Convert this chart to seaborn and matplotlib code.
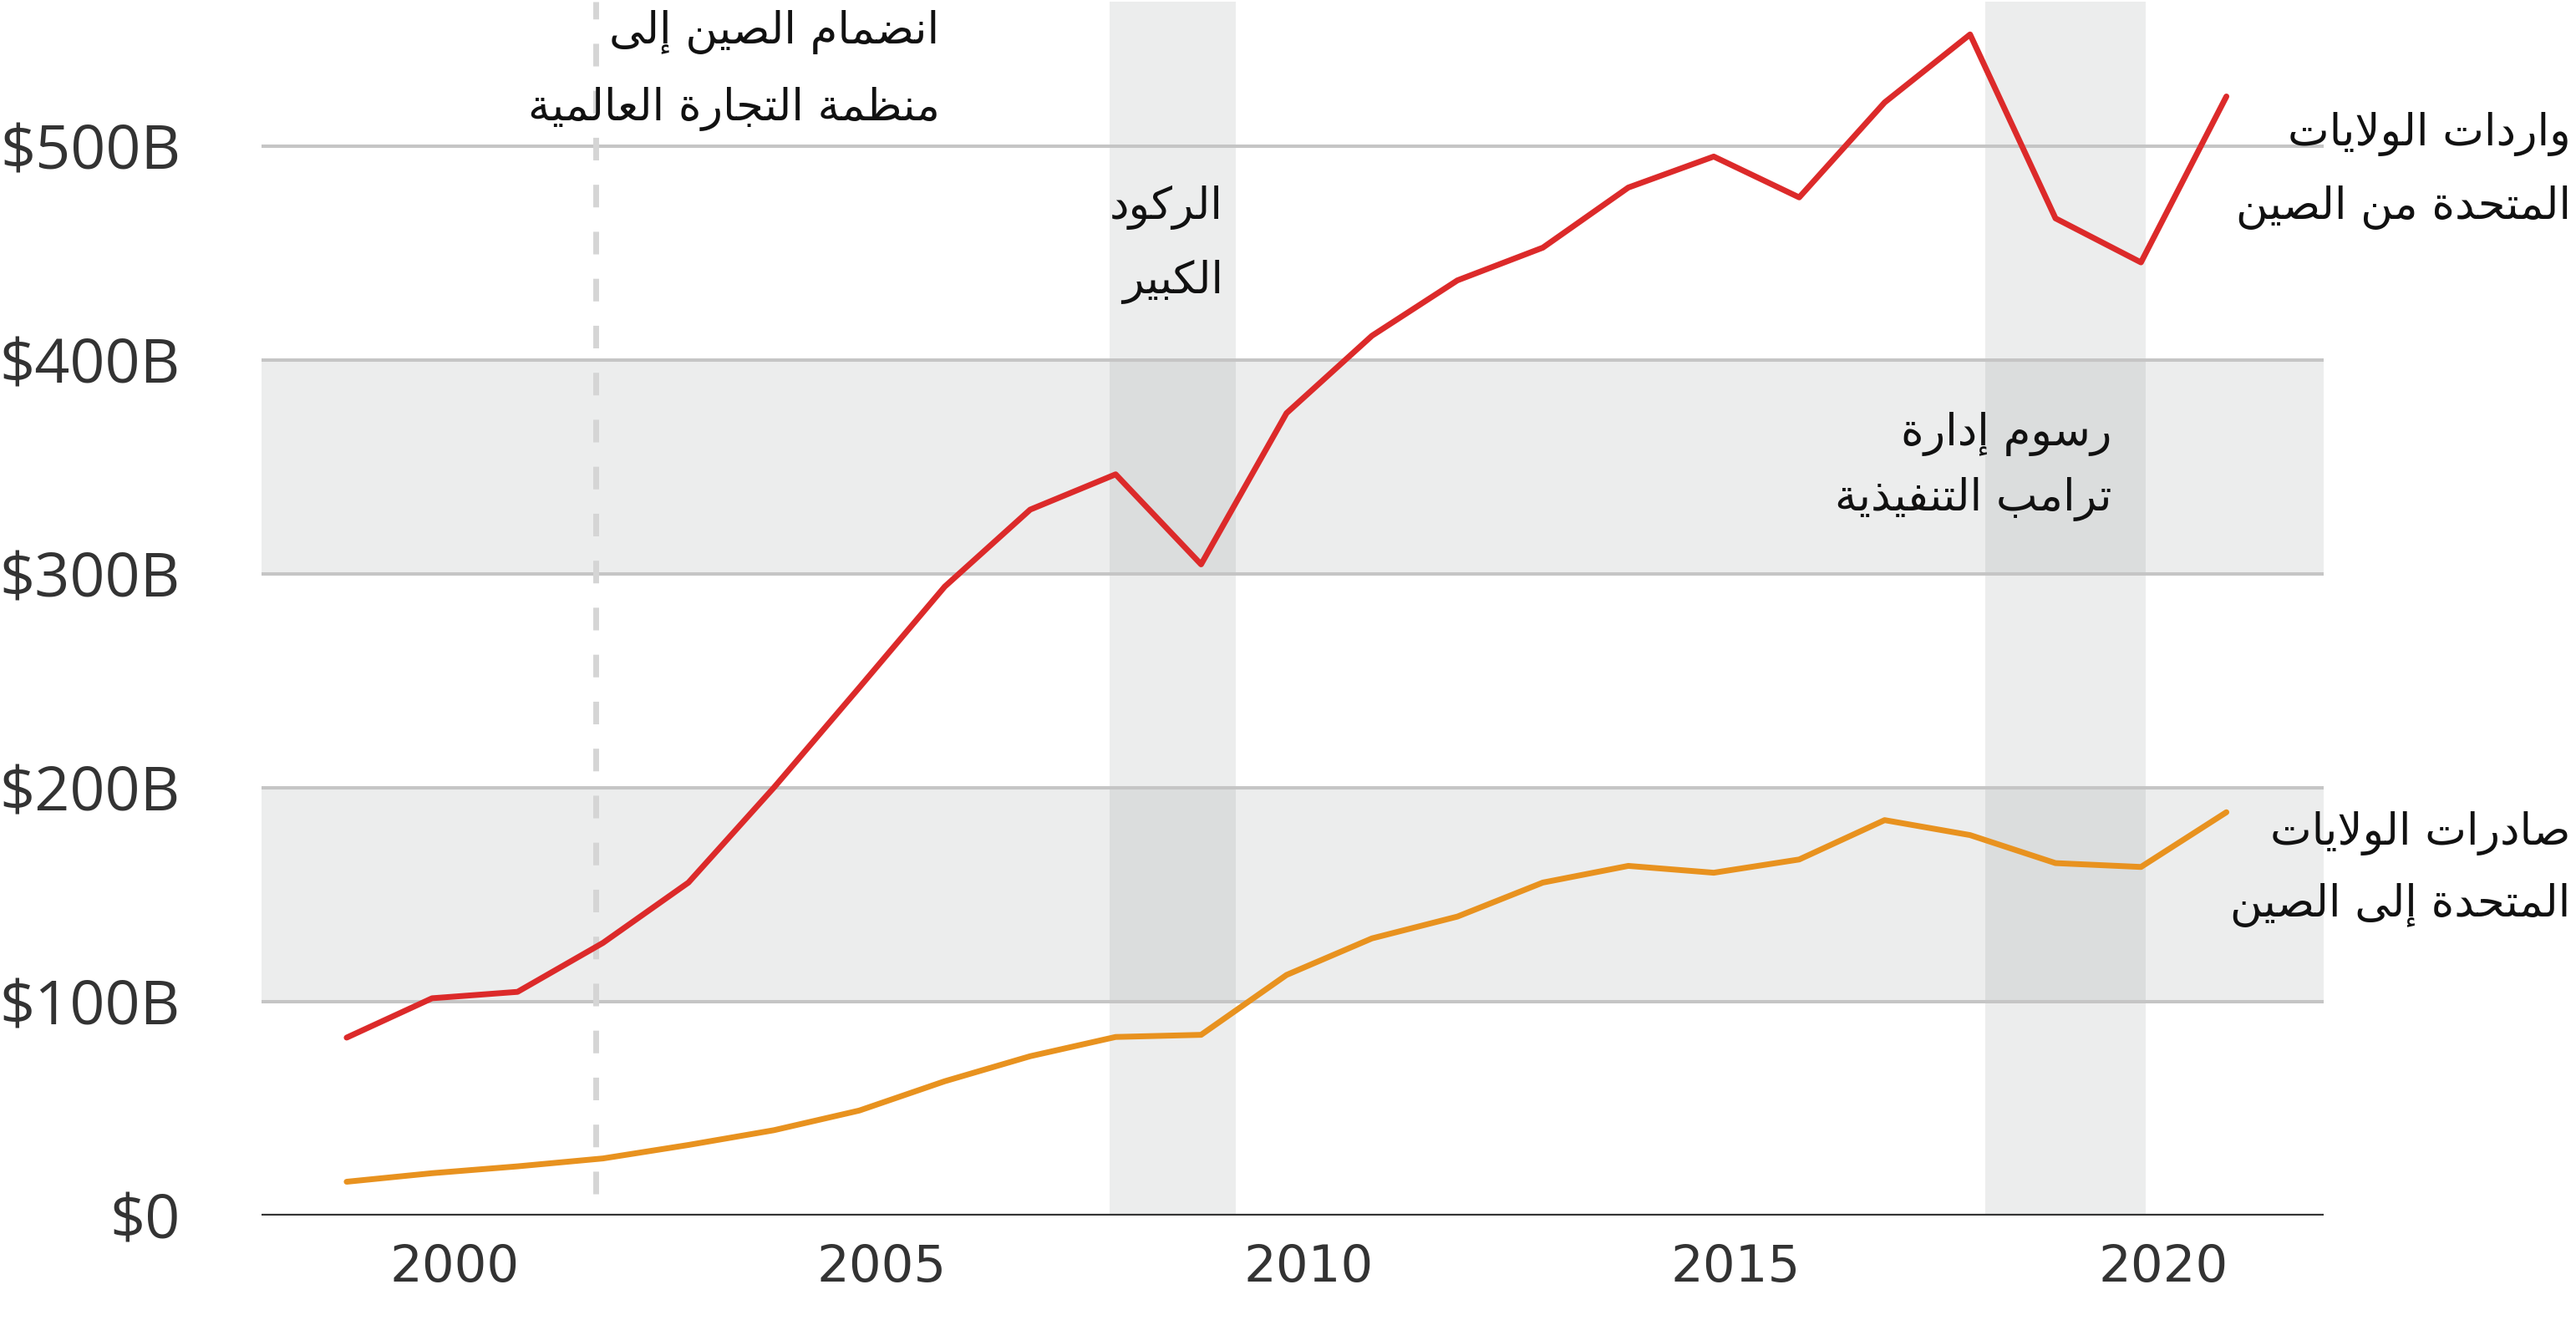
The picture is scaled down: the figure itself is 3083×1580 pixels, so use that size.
import numpy as np
import pandas as pd
import matplotlib
matplotlib.use('Agg')
import matplotlib.pyplot as plt
import seaborn as sns

# ----------------------------------------------------------------------------
# Data (US-China goods trade, billions of dollars)

years = list(range(1999, 2022))
imports_from_china = [83.1, 101.5, 104.5, 127.4, 155.6, 200.0, 246.8, 294.0,
                      330.0, 346.5, 304.4, 375.1, 411.3, 437.2, 452.5, 480.6,
                      495.1, 476.0, 520.4, 552.2, 466.2, 445.6, 523.2]
exports_to_china = [15.7, 19.7, 22.9, 26.6, 32.9, 39.8, 49.0, 62.7, 74.4,
                    83.4, 84.4, 112.4, 129.5, 139.7, 155.6, 163.4, 160.2,
                    166.4, 184.8, 177.8, 164.7, 162.9, 188.5]

series_names = ['imports', 'exports']
series_colors = ['#dc2a2a', '#e8921f']

y_ticks = [0, 100, 200, 300, 400, 500]
y_tick_labels = ['$0', '$100B', '$200B', '$300B', '$400B', '$500B']
x_tick_years = [2000, 2005, 2010, 2015, 2020]
x_tick_labels = ['2000', '2005', '2010', '2015', '2020']

shaded_value_bands = [(100, 200), (300, 400)]
recession = (2007.93, 2009.41)
tariffs = (2018.18, 2020.06)
wto_entry = 2001.92

# label lines (right edge x, baseline y values given in data coordinates)
wto_lines = ['انضمام الصين إلى', 'منظمة التجارة العالمية']
recession_lines = ['الركود', 'الكبير']
tariff_lines = ['رسوم إدارة', 'ترامب التنفيذية']
imports_lines = ['واردات الولايات', 'المتحدة من الصين']
exports_lines = ['صادرات الولايات', 'المتحدة إلى الصين']

# ----------------------------------------------------------------------------
# Minimal Arabic shaping (matplotlib does no contextual shaping / bidi)

_four = {'ئ': 0xFE89, 'ب': 0xFE8F, 'ت': 0xFE95, 'ث': 0xFE99, 'ج': 0xFE9D,
         'ح': 0xFEA1, 'خ': 0xFEA5, 'س': 0xFEB1, 'ش': 0xFEB5, 'ص': 0xFEB9,
         'ض': 0xFEBD, 'ط': 0xFEC1, 'ظ': 0xFEC5, 'ع': 0xFEC9, 'غ': 0xFECD,
         'ف': 0xFED1, 'ق': 0xFED5, 'ك': 0xFED9, 'ل': 0xFEDD, 'م': 0xFEE1,
         'ن': 0xFEE5, 'ه': 0xFEE9, 'ي': 0xFEF1}
_two = {'آ': 0xFE81, 'أ': 0xFE83, 'ؤ': 0xFE85, 'إ': 0xFE87, 'ا': 0xFE8D,
        'ة': 0xFE93, 'د': 0xFEA9, 'ذ': 0xFEAB, 'ر': 0xFEAD, 'ز': 0xFEAF,
        'و': 0xFEED, 'ى': 0xFEEF}
FORMS = {c: (b, b + 1, b + 2, b + 3) for c, b in _four.items()}
FORMS.update({c: (b, b + 1) for c, b in _two.items()})
LAM_ALEF = {'آ': 0xFEF5, 'أ': 0xFEF7, 'إ': 0xFEF9, 'ا': 0xFEFB}


def shape_arabic(text):
    out = []
    i = 0
    prev_joins = False
    while i < len(text):
        c = text[i]
        if c not in FORMS:
            out.append(c)
            prev_joins = False
            i += 1
            continue
        nxt = text[i + 1] if i + 1 < len(text) else ''
        if c == 'ل' and nxt in LAM_ALEF:
            out.append(chr(LAM_ALEF[nxt] + (1 if prev_joins else 0)))
            prev_joins = False
            i += 2
            continue
        f = FORMS[c]
        joins_next = len(f) == 4 and nxt in FORMS
        if prev_joins and joins_next:
            g = f[3]
        elif prev_joins:
            g = f[1]
        elif joins_next:
            g = f[2]
        else:
            g = f[0]
        out.append(chr(g))
        prev_joins = len(f) == 4
        i += 1
    return ''.join(reversed(out))


def label(ax, lines, x, baselines, size=38):
    for line, yb in zip(lines, baselines):
        ax.text(x, yb, shape_arabic(line), ha='right', va='baseline',
                fontsize=size, color='#111111', family=['DejaVu Sans'],
                clip_on=False, zorder=6)

# ----------------------------------------------------------------------------
# Plot

sns.set_theme(style='white')

df = pd.DataFrame({
    'year': years * 2,
    'value': imports_from_china + exports_to_china,
    'series': [series_names[0]] * len(years) + [series_names[1]] * len(years),
})

fig = plt.figure(figsize=(30.83, 15.80), dpi=100)
ax = fig.add_axes([0.1014, 0.0793, 0.8007, 0.9194])

band_rgba = (0.50, 0.53, 0.53, 0.15)
for lo, hi in shaded_value_bands:
    ax.axhspan(lo, hi, color=band_rgba, lw=0, zorder=0)
for lo, hi in (recession, tariffs):
    ax.axvspan(lo, hi, color=band_rgba, lw=0, zorder=0)

for yv in y_ticks[1:]:
    ax.axhline(yv, color='#c5c5c5', lw=2.9, zorder=1)
ax.axhline(0, color='#333333', lw=3.8, zorder=3)

ax.axvline(wto_entry, ymin=10 / 567.5, ymax=1, color='#d5d5d5', lw=5,
           linestyle=(0, (3.9, 4.2)), zorder=2)

sns.lineplot(data=df, x='year', y='value', hue='series',
             palette=series_colors, linewidth=5, legend=False, ax=ax,
             zorder=4)

ax.set_xlim(1998.0, 2022.14)
ax.set_ylim(0, 567.5)
for s in ax.spines.values():
    s.set_visible(False)

ax.set_yticks(y_ticks)
ax.set_yticklabels(y_tick_labels, family=['Open Sans'], fontsize=53,
                   color='#333333')
ax.set_xticks([y + 0.26 for y in x_tick_years])
ax.set_xticklabels(x_tick_labels, family=['DejaVu Sans'], fontsize=44,
                   color='#333333')
ax.tick_params(axis='y', length=0, pad=69.5)
ax.tick_params(axis='x', length=0, pad=24)
ax.set_xlabel('')
ax.set_ylabel('')

label(ax, wto_lines, 2005.94, [548, 512])
label(ax, recession_lines, 2009.26, [465.8, 431.2])
label(ax, tariff_lines, 2019.66, [360, 329.6])
label(ax, imports_lines, 2025.03, [500.5, 466.1])
label(ax, exports_lines, 2025.03, [173.5, 139.6])

fig.savefig('out.png', dpi=100)
